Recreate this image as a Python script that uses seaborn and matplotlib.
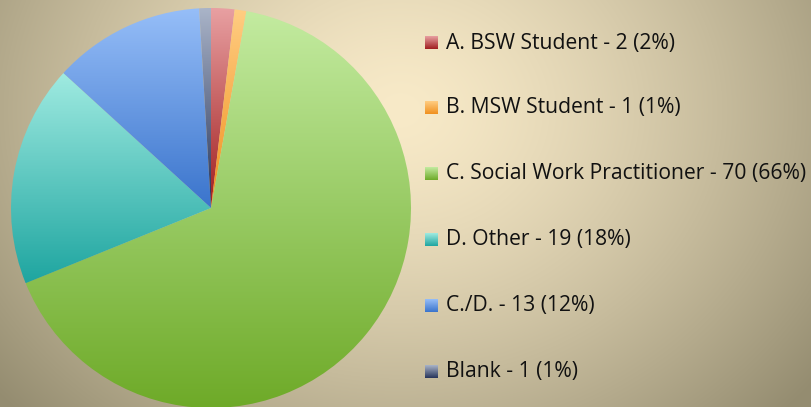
import numpy as np
import matplotlib
matplotlib.use("Agg")
import matplotlib.pyplot as plt
import seaborn as sns
from matplotlib.colors import LinearSegmentedColormap

# ---- data ----
categories = ["A. BSW Student", "B. MSW Student", "C. Social Work Practitioner",
              "D. Other", "C./D.", "Blank"]
counts = [2, 1, 70, 19, 13, 1]
percents = [2, 1, 66, 18, 12, 1]
top_colors = ["#e8a0a2", "#ffcd82", "#c3eba0", "#a0ebe1", "#96bef8", "#aab4c8"]
bottom_colors = ["#a01e1e", "#f0901e", "#6eaa28", "#1ea5a0", "#3a74cc", "#26345a"]

sns.set_theme(style="white")
plt.rcParams['font.family'] = ['Open Sans', 'DejaVu Sans']

W, H = 812, 407
fig = plt.figure(figsize=(W / 100, H / 100), dpi=100)
ax = fig.add_axes([0, 0, 1, 1])
ax.set_xlim(0, W)
ax.set_ylim(0, H)
ax.set_aspect('equal')
ax.axis('off')

# ---- background radial gradient ----
yy, xx = np.mgrid[0:H, 0:W]
d = np.sqrt(((xx - 400) / 480.0) ** 2 + ((yy - 110) / 400.0) ** 2)
t = np.clip(d / 1.1, 0, 1) ** 1.4
light = np.array([248, 234, 200]) / 255
dark = np.array([148, 140, 112]) / 255
bg = light[None, None, :] * (1 - t[..., None]) + dark[None, None, :] * t[..., None]
ax.imshow(bg, extent=(0, W, 0, H), origin='upper', zorder=0, interpolation='bilinear')

# ---- pie ----
cx, cy, r = 211, H - 208, 200
wedges, _ = ax.pie(counts, center=(cx, cy), radius=r, startangle=90,
                   counterclock=False, frame=True,
                   wedgeprops=dict(linewidth=0))
ax.set_xlim(0, W)
ax.set_ylim(0, H)
ax.axis('off')

grad = np.linspace(0, 1, 256)[:, None]
for w, tc, bc in zip(wedges, top_colors, bottom_colors):
    w.set_facecolor('none')
    w.set_edgecolor('none')
    bb = w.get_path().get_extents(w.get_patch_transform())
    cmap = LinearSegmentedColormap.from_list("g", [tc, bc])
    im = ax.imshow(grad, extent=(bb.x0, bb.x1, bb.y0, bb.y1), origin='upper', cmap=cmap,
                   aspect='auto', zorder=2, interpolation='bilinear')
    im.set_clip_path(w)

ax.set_xlim(0, W)
ax.set_ylim(0, H)

# ---- legend ----
row_y = [43, 108, 174, 240, 306, 372]
sq = 13
texts = []
for lab, c, p, tc, bc, ry in zip(categories, counts, percents, top_colors, bottom_colors, row_y):
    y = H - ry
    cmap = LinearSegmentedColormap.from_list("g", [tc, bc])
    ax.imshow(grad, extent=(425, 425 + sq, y - sq / 2, y + sq / 2), origin='upper',
              cmap=cmap, aspect='auto', zorder=3)
    texts.append(ax.text(446, y, f"{lab} - {c} ({p}%)", fontsize=13, color='#111111',
                         va='center', ha='left', zorder=4))

# fit font size so the longest label spans the same width as the reference
fig.canvas.draw()
renderer = fig.canvas.get_renderer()
maxw = max(tx.get_window_extent(renderer).width for tx in texts)
fs = 13 * 360.0 / maxw
for tx in texts:
    tx.set_fontsize(fs)

ax.set_xlim(0, W)
ax.set_ylim(0, H)
fig.savefig("out.png", dpi=100)
